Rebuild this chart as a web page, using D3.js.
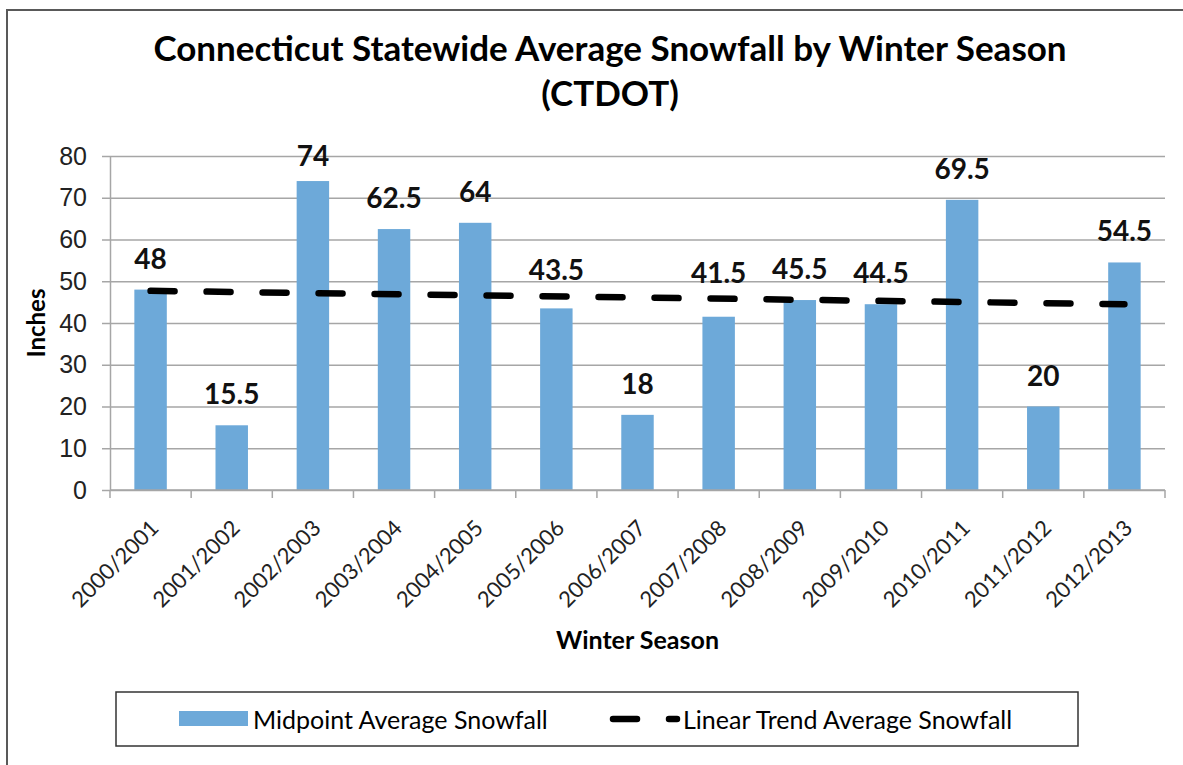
<!DOCTYPE html>
<html>
<head>
<meta charset="utf-8">
<style>
  body { margin: 0; background: #fff; }
  svg { display: block; font-family: Lato, "Open Sans", sans-serif; }
  .grid line { stroke: #a6a6a6; stroke-width: 1.5px; }
  .grid path { display: none; }
  .yaxis path, .yaxis line, .xaxis line { stroke: #a6a6a6; stroke-width: 1.5px; }
  .yaxis text { fill: #222; font-size: 25px; }
  .xaxis text { fill: #222; font-size: 22px; }
</style>
</head>
<body>
<svg width="1183" height="765"></svg>

<script src="https://d3js.org/d3.v7.min.js"></script>
<script>
  var seasons = ["2000/2001", "2001/2002", "2002/2003", "2003/2004", "2004/2005", "2005/2006",
                 "2006/2007", "2007/2008", "2008/2009", "2009/2010", "2010/2011", "2011/2012", "2012/2013"];
  var snowfall = [48, 15.5, 74, 62.5, 64, 43.5, 18, 41.5, 45.5, 44.5, 69.5, 20, 54.5];
  // trend line value at the first and last season
  var trendEnds = [47.7, 44.5];
  var yTicks = [0, 10, 20, 30, 40, 50, 60, 70, 80];

  var svg = d3.select("svg");
  var plotLeft = 110, plotRight = 1165, plotTop = 156, plotBottom = 490;

  // chart frame
  svg.append("rect")
      .attr("x", 7).attr("y", 10)
      .attr("width", 1210).attr("height", 800)
      .attr("fill", "none")
      .attr("stroke", "#595959")
      .attr("stroke-width", 2);

  var x = d3.scaleBand()
      .domain(seasons)
      .range([plotLeft, plotRight])
      .paddingInner(0.6)
      .paddingOuter(0.3);

  var y = d3.scaleLinear()
      .domain([0, 80])
      .range([plotBottom, plotTop]);

  // gridlines
  svg.append("g")
      .attr("class", "grid")
      .attr("transform", "translate(" + plotLeft + ",0)")
      .call(d3.axisLeft(y).tickValues(yTicks).tickSize(-(plotRight - plotLeft)).tickFormat(""));

  // y axis
  svg.append("g")
      .attr("class", "yaxis")
      .attr("transform", "translate(" + plotLeft + ",0)")
      .call(d3.axisLeft(y).tickValues(yTicks).tickSize(8).tickPadding(15).tickSizeOuter(0));

  // bars
  svg.append("g")
    .selectAll("rect")
    .data(snowfall)
    .enter().append("rect")
      .attr("x", function(d, i) { return x(seasons[i]); })
      .attr("y", function(d) { return y(d); })
      .attr("width", x.bandwidth())
      .attr("height", function(d) { return y(0) - y(d); })
      .attr("fill", "#6da9d9");

  // x axis line and ticks at the category boundaries
  var xa = svg.append("g").attr("class", "xaxis");
  xa.append("line")
      .attr("x1", plotLeft).attr("x2", plotRight)
      .attr("y1", plotBottom).attr("y2", plotBottom);
  var bounds = seasons.map(function(s) { return x(s) - x.step() * x.paddingInner() / 2; }).concat([plotRight]);
  xa.selectAll(".tk")
    .data(bounds)
    .enter().append("line")
      .attr("x1", function(d) { return d; }).attr("x2", function(d) { return d; })
      .attr("y1", plotBottom).attr("y2", plotBottom + 8);
  xa.selectAll("text")
    .data(seasons)
    .enter().append("text")
      .attr("transform", function(d) {
        return "translate(" + (x(d) + x.bandwidth() / 2 + 4) + "," + (plotBottom + 34) + ") rotate(-45)";
      })
      .attr("text-anchor", "end")
      .attr("dy", "0.35em")
      .text(function(d) { return d; });

  // trend line
  var cx0 = x(seasons[0]) + x.bandwidth() / 2;
  var cx1 = x(seasons[seasons.length - 1]) + x.bandwidth() / 2;
  svg.append("line")
      .attr("x1", cx0).attr("y1", y(trendEnds[0]))
      .attr("x2", cx1).attr("y2", y(trendEnds[1]))
      .attr("stroke", "#000")
      .attr("stroke-width", 6.5)
      .attr("stroke-linecap", "round")
      .attr("stroke-dasharray", "24,32");

  function trendAt(i) {
    return trendEnds[0] + (trendEnds[1] - trendEnds[0]) * i / (seasons.length - 1);
  }

  // value labels, lifted over the trend line where they would touch it
  svg.append("g")
    .selectAll("text")
    .data(snowfall)
    .enter().append("text")
      .attr("x", function(d, i) { return x(seasons[i]) + x.bandwidth() / 2; })
      .attr("y", function(d, i) {
        var b = Math.max(y(d) - 21, 166), t = y(trendAt(i));
        if (b > t - 12 && b - 20 < t + 5) b = t - 16;
        return b;
      })
      .attr("text-anchor", "middle")
      .style("font-size", "28px")
      .style("font-weight", "bold")
      .attr("fill", "#111")
      .text(function(d) { return d; });

  // titles
  svg.append("text")
      .attr("x", 610).attr("y", 61)
      .attr("text-anchor", "middle")
      .style("font-size", "35px").style("font-weight", "bold")
      .text("Connecticut Statewide Average Snowfall by Winter Season");
  svg.append("text")
      .attr("x", 610).attr("y", 106)
      .attr("text-anchor", "middle")
      .style("font-size", "35px").style("font-weight", "bold")
      .text("(CTDOT)");

  svg.append("text")
      .attr("transform", "translate(45," + ((plotTop + plotBottom) / 2) + ") rotate(-90)")
      .attr("text-anchor", "middle")
      .style("font-size", "24px").style("font-weight", "bold")
      .text("Inches");

  svg.append("text")
      .attr("x", (plotLeft + plotRight) / 2).attr("y", 649)
      .attr("text-anchor", "middle")
      .style("font-size", "25px").style("font-weight", "bold")
      .text("Winter Season");

  // legend
  var lg = svg.append("g");
  lg.append("rect")
      .attr("x", 116).attr("y", 692)
      .attr("width", 962).attr("height", 54)
      .attr("fill", "#fff")
      .attr("stroke", "#333")
      .attr("stroke-width", 1.5);
  lg.append("rect")
      .attr("x", 179).attr("y", 711)
      .attr("width", 69).attr("height", 15)
      .attr("fill", "#6da9d9");
  lg.append("text")
      .attr("x", 253).attr("y", 729)
      .style("font-size", "25px")
      .text("Midpoint Average Snowfall");
  lg.append("line")
      .attr("x1", 613).attr("x2", 677)
      .attr("y1", 719).attr("y2", 719)
      .attr("stroke", "#000")
      .attr("stroke-width", 6.5)
      .attr("stroke-linecap", "round")
      .attr("stroke-dasharray", "24,32");
  lg.append("text")
      .attr("x", 683).attr("y", 729)
      .style("font-size", "25px")
      .text("Linear Trend Average Snowfall");
</script>
</body>
</html>
